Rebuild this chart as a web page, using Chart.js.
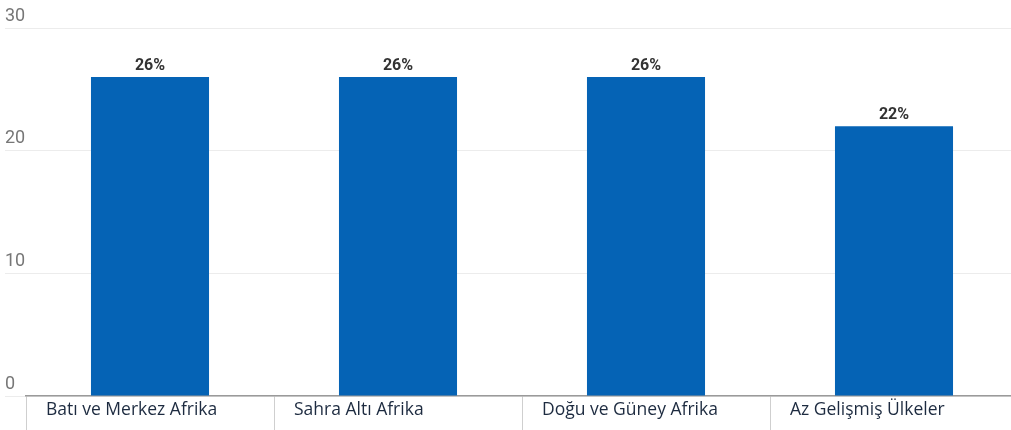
<!DOCTYPE html>
<html>
<head>
<meta charset="utf-8">
<script src="https://cdn.jsdelivr.net/npm/chart.js@4/dist/chart.umd.min.js"></script>
<style>
  html, body { margin: 0; padding: 0; background: #fff; overflow: hidden; }
  #wrap { position: relative; width: 1020px; height: 430px; }
</style>
</head>
<body>
<div id="wrap"><canvas id="regions_chart"></canvas></div>
<script>
var regions = ['Batı ve Merkez Afrika', 'Sahra Altı Afrika', 'Doğu ve Güney Afrika', 'Az Gelişmiş Ülkeler'];
var shares = [26, 26, 26, 22];
var yTicks = [0, 10, 20, 30];

// draws the "26%" labels on top of each bar
var valueLabels = {
    id: 'valueLabels',
    afterDatasetsDraw: function (chart) {
        var ctx = chart.ctx;
        var meta = chart.getDatasetMeta(0);
        ctx.save();
        ctx.font = 'bold 16px Roboto';
        ctx.fillStyle = '#333333';
        ctx.textAlign = 'center';
        ctx.textBaseline = 'bottom';
        meta.data.forEach(function (bar, i) {
            ctx.fillText(chart.data.datasets[0].data[i] + '%', bar.x, bar.y - 3);
        });
        ctx.restore();
    }
};

var ctx = document.getElementById('regions_chart').getContext('2d');
var myChart = new Chart(ctx, {
    type: 'bar',
    data: {
        labels: regions,
        datasets: [{
            data: shares,
            backgroundColor: '#0563b5',
            borderWidth: 0,
            categoryPercentage: 1,
            barPercentage: 0.476
        }]
    },
    options: {
        responsive: true,
        maintainAspectRatio: false,
        animation: false,
        layout: {
            padding: { left: 5, right: 2, top: 28, bottom: 0 }
        },
        scales: {
            y: {
                min: yTicks[0],
                max: yTicks[yTicks.length - 1],
                afterFit: function (scale) { scale.width = 21; },
                afterBuildTicks: function (scale) {
                    scale.ticks = yTicks.map(function (v) { return { value: v }; });
                },
                border: { display: false },
                grid: {
                    color: '#ececec',
                    tickLength: 21
                },
                ticks: {
                    mirror: true,
                    padding: -21,
                    labelOffset: -12,
                    color: '#777777',
                    font: { family: 'Roboto', size: 18 }
                }
            },
            x: {
                afterFit: function (scale) { scale.height = 34; },
                border: { display: true, color: '#9a9a9a', width: 1.5 },
                grid: {
                    drawOnChartArea: false,
                    color: '#cfcfcf',
                    tickLength: 40
                },
                ticks: {
                    align: 'start',
                    labelOffset: -104,
                    padding: -36,
                    maxRotation: 0,
                    autoSkip: false,
                    color: '#1d2b40',
                    font: { family: 'Open Sans', size: 17.5 }
                }
            }
        },
        plugins: {
            legend: { display: false },
            tooltip: { enabled: false }
        }
    },
    plugins: [valueLabels]
});
</script>
</body>
</html>
